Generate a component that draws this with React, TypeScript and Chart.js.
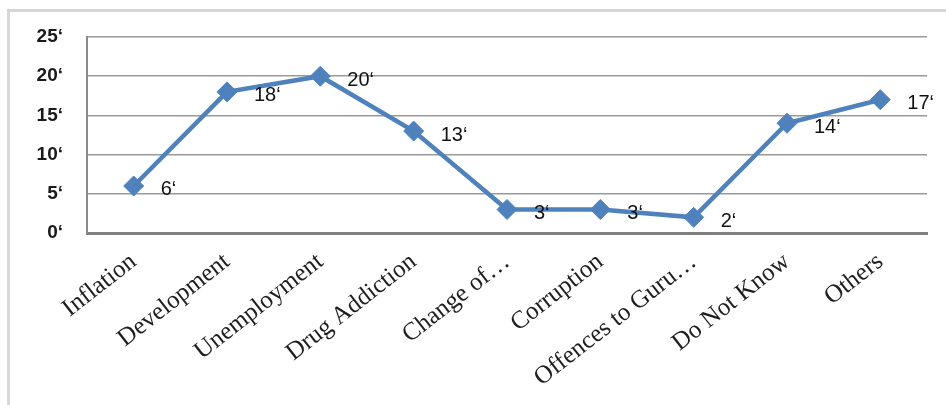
import React, { useEffect, useRef } from "react";
import { Chart, registerables } from "chart.js";

Chart.register(...registerables);

const categories = [
  "Inflation",
  "Development",
  "Unemployment",
  "Drug Addiction",
  "Change of…",
  "Corruption",
  "Offences to Guru…",
  "Do Not Know",
  "Others",
];
const values = [6, 18, 20, 13, 3, 3, 2, 14, 17];
const yMin = 0;
const yMax = 25;
const yStep = 5;
const suffix = "‘";

const LINE_COLOR = "#4F81BD";

const dataLabelPlugin = {
  id: "dataLabels",
  afterDatasetsDraw(chart: any) {
    const ctx = chart.ctx;
    const meta = chart.getDatasetMeta(0);
    ctx.save();
    ctx.font = "20px 'Liberation Sans', Arial, sans-serif";
    ctx.fillStyle = "#111";
    ctx.textAlign = "left";
    ctx.textBaseline = "middle";
    meta.data.forEach((pt: any, i: number) => {
      ctx.fillText(String(values[i]) + suffix, pt.x + 27, pt.y + 4);
    });
    ctx.restore();
  },
};

export default function App() {
  const ref = useRef<HTMLCanvasElement | null>(null);

  useEffect(() => {
    if (!ref.current) return;
    const chart = new Chart(ref.current, {
      type: "line",
      data: {
        labels: categories,
        datasets: [
          {
            data: values,
            borderColor: LINE_COLOR,
            backgroundColor: LINE_COLOR,
            borderWidth: 4.5,
            pointStyle: "rectRot",
            pointRadius: 10,
            pointBorderWidth: 1,
            pointBackgroundColor: LINE_COLOR,
            pointBorderColor: LINE_COLOR,
            tension: 0,
          },
        ],
      },
      options: {
        responsive: false,
        animation: false,
        maintainAspectRatio: false,
        layout: { padding: { left: 0, right: 19, top: 37, bottom: 0 } },
        plugins: {
          legend: { display: false },
          tooltip: { enabled: false },
          title: { display: false },
        },
        scales: {
          x: {
            offset: true,
            grid: { display: false, drawTicks: false },
            border: { display: true, color: "#7f7f7f", width: 3 },
            ticks: {
              autoSkip: false,
              minRotation: 38,
              maxRotation: 38,
              padding: 14,
              color: "#1e1e1e",
              font: { family: "'Liberation Serif', 'Times New Roman', serif", size: 25 },
            },
            afterFit(scale: any) {
              scale.height = 172;
            },
          },
          y: {
            min: yMin,
            max: yMax,
            grid: { color: "#9a9a9a", lineWidth: 1.5, drawTicks: false },
            border: { display: true, color: "#8a8a8a", width: 2 },
            ticks: {
              stepSize: yStep,
              padding: 24,
              color: "#1a1a1a",
              font: { family: "'Liberation Sans', Arial, sans-serif", size: 19, weight: "bold" },
              callback: (v: any) => String(v) + suffix,
            },
            afterFit(scale: any) {
              scale.width = 87;
            },
          },
        },
      },
      plugins: [dataLabelPlugin],
    } as any);
    return () => chart.destroy();
  }, []);

  return (
    <div
      style={{
        position: "fixed",
        left: 0,
        top: 0,
        width: 946,
        height: 405,
        background: "#fff",
        overflow: "hidden",
      }}
    >
      <div
        style={{
          position: "absolute",
          left: 7,
          top: 9,
          width: 980,
          height: 440,
          border: "3px solid #d6d6d6",
          boxSizing: "border-box",
        }}
      />
      <canvas
        ref={ref}
        width={946}
        height={405}
        style={{ position: "absolute", left: 0, top: 0, width: 946, height: 405 }}
      />
    </div>
  );
}
